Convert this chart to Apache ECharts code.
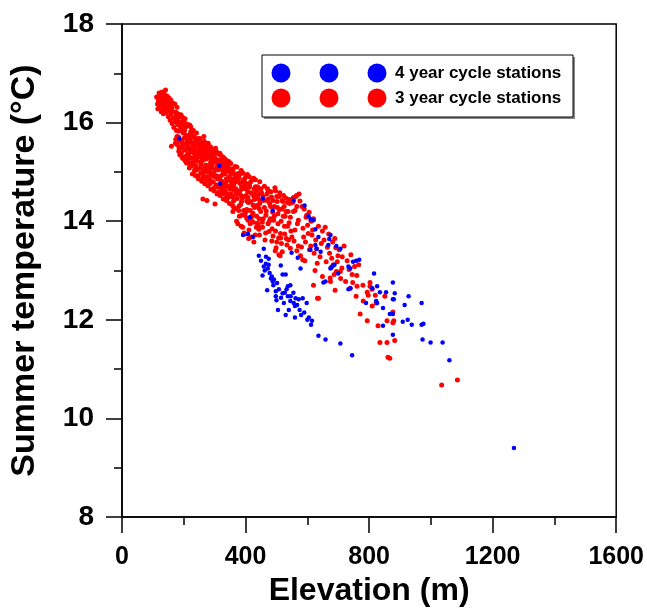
<!DOCTYPE html>
<html>
<head>
<meta charset="utf-8">
<script src="https://cdn.jsdelivr.net/npm/echarts@6/dist/echarts.min.js"></script>
<style>html,body{margin:0;padding:0;background:#fff}#c{width:647px;height:612px}</style>
</head>
<body>
<div id="c"></div>
<script>
// Axis settings
const xTicks = [0, 400, 800, 1200, 1600];
const yTicks = [8, 10, 12, 14, 16, 18];
const seriesNames = ['4 year cycle stations', '3 year cycle stations'];

// 3 year cycle stations (red): [elevation m, temperature °C]
const redTop = [[112,16.52],[115,16.38],[118,16.45],[120,16.6],[122,16.3],[124,16.48],[125,16.55],[127,16.22],[128,16.4],[130,16.62],[131,16.33],[133,16.5],[134,16.18],[136,16.44],[137,16.58],[139,16.27],[140,16.36],[141,16.66],[143,16.47],[144,16.2],[146,16.54],[147,16.31],[149,16.42],[150,16.12],[152,16.5],[153,16.25],[155,16.38],[156,16.05],[158,16.46],[159,16.18],[161,16.3],[162,15.98],[164,16.4],[165,16.1],[166,16.22],[168,15.9],[116,16.28],[121,16.44],[126,16.35],[135,16.26],[160,15.52]];
const redCore1 = [[172,16.02],[185,15.48],[178,16.31],[189,15.92],[174,15.66],[181,16.18],[176,15.84],[187,15.35],[171,16.38],[183,15.71],[179,15.55],[188,16.12],[175,16.21],[184,15.98],
[193,15.62],[204,16.08],[197,15.27],[208,15.74],[191,16.16],[201,15.44],[206,15.91],[195,15.83],[209,15.18],[199,16.02],[203,15.56],[192,15.38],[207,15.32],[196,16.11],[202,15.69],[210,15.97],
[213,15.52],[226,15.86],[218,15.08],[221,15.67],[212,15.93],[229,15.21],[216,15.74],[224,15.42],[211,15.25],[227,15.58],[219,15.95],[215,15.33],[228,14.96],[222,15.81],[214,15.61],[225,15.12],
[233,15.47],[246,15.68],[238,14.92],[241,15.79],[232,15.18],[249,15.31],[236,15.62],[244,15.05],[231,15.84],[247,14.86],[239,15.39],[235,15.02],[248,15.56],[242,15.26],[234,15.71],[245,15.44],
[253,15.36],[266,15.62],[258,14.81],[261,15.48],[252,15.68],[269,15.09],[256,15.15],[264,14.94],[251,15.52],[267,15.33],[259,15.6],[255,14.98],[268,14.76],[262,15.24],[254,15.44],[265,15.72],
[273,15.26],[286,15.51],[278,14.72],[281,15.38],[272,15.55],[289,14.97],[276,15.07],[284,14.84],[271,15.43],[287,15.2],[279,15.58],[275,14.9],[288,14.65],[282,15.13],[274,15.35],[285,15.47],
[293,15.16],[306,15.41],[298,14.62],[301,15.28],[292,15.47],[309,14.86],[296,14.98],[304,14.74],[291,15.34],[307,15.1],[299,15.45],[295,14.8],[308,14.55],[302,15.04],[294,15.24],[305,15.38],
[313,15.05],[326,15.31],[318,14.52],[321,15.18],[312,15.37],[329,14.76],[316,14.88],[324,14.63],[311,15.24],[327,15.0],[319,15.34],[315,14.7],[328,14.45],[322,14.93],[314,15.14],[325,15.27],
[333,14.96],[346,15.21],[338,14.42],[341,15.08],[332,15.27],[349,14.65],[336,14.78],[344,14.54],[331,15.13],[347,14.9],[339,15.23],[335,14.6],[348,14.36],[342,14.84],[334,15.05]];
const redCore2 = [[353,14.86],[366,15.11],[358,14.32],[361,14.98],[352,15.17],[369,14.55],[356,14.68],[364,14.44],[351,15.02],[367,14.8],[359,14.2],[355,14.5],[368,14.26],[362,14.74],
[373,14.92],[386,15.03],[378,14.22],[381,14.77],[372,15.1],[389,14.47],[376,14.58],[384,14.34],[371,14.0],[387,14.7],[379,14.88],[375,13.95],[388,14.12],[382,14.62],
[393,14.83],[406,14.95],[398,14.12],[401,14.66],[392,14.98],[409,14.38],[396,14.5],[404,14.24],[391,13.88],[407,14.6],[399,14.78],[395,13.76],[408,14.02],[402,14.52],
[413,14.72],[426,14.87],[418,14.05],[421,14.56],[412,14.9],[429,14.28],[416,14.4],[424,14.16],[411,13.82],[427,14.5],[419,13.68],[415,13.95],[428,14.66],
[433,14.62],[446,14.8],[438,13.96],[441,14.46],[432,14.84],[449,14.2],[436,14.32],[444,14.05],[431,13.72],[447,14.42],[439,14.7],[435,13.88],
[386,13.9],[410,13.65],[427,13.58],[445,13.72],[398,13.74]];
const redFill = [[177,16.05],[183,15.83],[186,16.0],[194,15.52],[198,15.79],[205,15.57],[200,15.94],[217,15.46],[223,15.71],[220,15.29],[231,15.56],[237,15.31],[243,15.6],[240,15.12],[251,15.4],[258,15.22],[263,15.57],[261,14.87],[271,15.29],[276,15.47],[284,15.01],[279,14.82],[291,15.23],[296,15.35],[304,14.91],[299,14.68],[312,15.16],[316,15.22],[324,14.81],[321,14.59],[331,15.03],[338,15.13],[343,14.71],[339,14.5],[352,14.96],[356,15.02],[364,14.63],[361,14.41],[372,14.84],[376,14.97],[384,14.53],[379,14.31],[392,14.79],[397,14.86],[404,14.41],[401,14.19],[412,14.69],[417,14.8],[424,14.33],[421,14.11],[432,14.56],[436,14.62],[444,14.26],[441,13.92],[448,14.56],[262,14.45],[275,14.42],[301,14.35]];
const redFill2 = [[173,15.58],[176,16.14],[180,15.96],[184,15.42],[187,15.62],[191,15.86],[195,15.3],[198,16.04],[202,15.84],[205,15.22],[208,15.47],[212,15.36],[215,15.66],[219,15.16],[222,15.92],[226,15.28],[229,15.72],[233,15.38],[236,15.05],[240,15.66],[243,15.44],[247,14.92],[250,15.6],[254,15.08],[257,15.48],[261,15.3],[264,14.84],[268,15.52],[271,15.14],[275,15.58],[278,15.0],[282,15.3],[285,14.76],[289,15.4],[292,15.08],[296,14.66],[299,15.26],[303,15.48],[306,14.92],[310,15.04],[313,14.6],[317,15.38],[320,14.8],[324,15.06],[327,14.56],[331,15.2],[334,14.7],[338,14.86],[341,14.46],[345,15.02],[348,15.16],[352,14.56],[355,14.76],[359,15.04],[362,14.28],[366,14.9],[369,14.66],[373,14.46],[376,14.82],[380,14.1],[383,14.96],[387,14.4],[390,14.66],[394,14.22],[397,14.7],[401,14.9],[404,14.06],[408,14.48],[411,14.76],[415,14.22],[418,14.58],[422,14.84],[425,13.98],[429,14.44],[432,14.7],[436,14.1],[439,14.5],[443,13.84],[446,14.36],[450,14.66],[454,13.98],[457,14.5],[461,14.28],[465,13.76],[469,14.42],[473,14.62],[477,14.0],[481,14.3],[485,13.6],[489,14.42],[493,14.1],[497,13.8],[501,14.5],[505,13.95],[509,14.24],[514,13.66],[518,14.42],[522,14.1],[527,13.74],[531,14.2],[536,13.9],[540,14.44],[545,14.08],[550,13.68],[555,14.2],[560,13.82],[566,14.3],[571,13.5]];
const redFill3 = [[178,15.72],[182,16.1],[190,15.5],[193,16.0],[197,15.58],[201,15.82],[206,15.45],[210,15.66],[214,15.2],[218,15.6],[221,15.4],[225,15.8],[228,15.5],[232,15.26],[235,15.52],[239,15.22],[244,15.36],[248,15.66],[252,15.2],[255,15.56],[259,15.4],[263,15.02],[266,15.42],[270,15.5],[273,15.02],[277,15.3],[281,14.9],[285,15.3],[288,15.08],[292,15.38],[295,14.92],[299,14.9],[303,15.2],[307,14.7],[311,15.1],[315,14.9],[319,15.1],[323,14.72],[327,15.18],[331,14.66],[335,15.0],[339,14.72],[343,15.1],[347,14.5],[351,14.82],[355,15.06],[359,14.5],[363,14.84],[367,14.62],[371,14.92]];
const redE = [[452,14.58],[467,14.21],[455,13.88],[471,14.66],[458,14.42],[476,13.79],[461,14.71],[480,14.05],[463,13.62],[484,14.49],[466,14.12],[489,13.7],[469,14.55],[493,14.3],[473,13.95],[497,14.62],[478,14.36],[501,13.58],[482,14.6],[505,14.15],[486,13.85],[509,14.5],[491,14.02],[513,13.75],[495,14.68],[517,14.25],[499,13.46],[521,14.4],[503,14.28],[526,13.9],[507,13.66],[530,14.47],[511,14.58],[534,13.52],[515,14.0],[538,14.2],[519,13.38],[543,14.36],[523,14.52],[547,13.8],[528,14.1],[549,14.44],[532,13.65],[536,14.38],[541,13.97],[545,13.45],[457,14.05],[474,14.45],[488,14.18],[502,14.4],[516,13.55],[525,14.3],[539,13.62],[512,13.3],[496,13.4],[508,13.32]];
const redF = [[553,14.38],[571,14.02],[557,13.6],[576,14.41],[560,14.22],[581,13.48],[563,14.5],[586,13.86],[566,13.4],[590,14.25],[568,13.95],[594,13.58],[573,14.55],[598,14.12],[578,13.3],[603,13.75],[583,14.3],[607,13.42],[588,13.68],[612,14.0],[592,13.2],[617,13.82],[596,14.08],[622,13.35],[601,13.92],[627,13.62],[606,14.18],[632,13.15],[611,13.5],[636,13.9],[615,13.72],[641,13.28],[620,14.05],[645,13.55],[625,13.0],[649,13.8],[630,13.44],[555,14.48],[565,14.52],[585,13.22]];
const redG = [[654,13.62],[672,13.35],[658,13.88],[677,13.06],[661,13.18],[682,13.58],[665,13.47],[687,12.92],[669,13.74],[692,13.46],[674,12.85],[697,13.18],[679,13.25],[703,13.42],[684,13.12],[708,12.84],[689,13.65],[713,13.28],[694,12.98],[719,13.5],[699,13.3],[724,12.78],[729,13.2],[735,13.02],[741,13.32],[747,12.76],[753,13.08],[760,12.9],[766,13.12],[712,13.05]];
const redH = [[835,11.54],[861,11.24],[1035,10.68],[1086,10.78],[794,11.98],[829,11.88],[880,11.98],[803,12.68],[739,12.64],[758,12.48],[636,12.44],[675,12.78],[707,12.98],[649,12.88],[851,12.48],[810,12.28],[771,12.12],[858,11.54],[867,11.22],[877,12.16],[858,11.98],[877,11.94],[883,11.58],[620,12.7],[690,12.6],[780,12.7],[820,12.5],[633,12.44],[803,12.76],[794,12.56],[810,12.62],[781,12.38],[823,12.34],[797,12.5],[761,12.68],[745,12.92]];

// 4 year cycle stations (blue): [elevation m, temperature °C]
const blueUpper = [[186,15.68],[315,15.12],[318,14.76],[456,14.46],[556,14.42],[591,14.32],[488,14.22],[414,14.08],[604,14.1],[620,14.02],[611,14.04],[626,13.84],[636,13.68],[675,13.72],[671,13.64],[392,13.72],[408,13.74],[424,13.68],[459,13.44],[626,13.52],[630,13.44],[610,13.42],[668,13.52],[694,13.5],[707,13.44],[643,13.38],[549,13.36]];
const blueLower = [[443,13.3],[466,13.28],[475,13.24],[466,13.14],[475,13.12],[459,13.08],[472,13.04],[514,13.1],[569,13.26],[578,13.04],[485,12.88],[492,12.82],[482,12.84],[488,12.78],[520,12.92],[530,12.92],[537,12.68],[533,12.62],[498,12.58],[508,12.62],[520,12.54],[498,12.48],[537,12.48],[546,12.48],[562,12.44],[572,12.42],[585,12.44],[524,12.34],[556,12.34],[598,12.34],[450,13.2],[462,13.0],[478,12.95],[490,12.7],[502,12.75],[515,12.45],[527,12.55],[545,12.38],[560,12.28],[575,12.2],[590,12.15],[605,12.05],[615,11.98],[500,12.4],[540,12.2],[567,12.3],[580,12.1],[600,12.0],[612,11.9],[636,11.68],[659,11.6],[707,11.52],[745,11.28],[470,12.6],[455,12.9],[505,12.2],[555,12.55],[545,12.7],[530,12.1],[560,12.05]];
const blueRight = [[681,13.08],[675,13.04],[688,13.12],[652,12.76],[659,12.78],[733,13.08],[739,13.04],[748,13.18],[758,13.2],[768,13.22],[733,12.62],[739,12.64],[700,12.94],[816,12.94],[826,12.68],[835,12.56],[810,12.64],[790,12.34],[823,12.38],[826,12.34],[877,12.76],[855,12.56],[880,12.42],[883,12.54],[928,12.48],[877,12.42],[915,12.3],[970,12.34],[845,12.24],[867,12.12],[877,12.12],[909,11.96],[925,12.0],[938,11.9],[970,11.9],[976,11.92],[845,11.88],[877,11.7],[973,11.6],[999,11.54],[1038,11.54],[1060,11.18],[1269,9.4]];

const redData = [].concat(redTop, redCore1, redCore2, redFill, redFill2, redFill3, redE, redF, redG, redH);
const blueData = [].concat(blueUpper, blueLower, blueRight);

const FONT = "'Liberation Sans', Arial, Helvetica, sans-serif";
const chart = echarts.init(document.getElementById('c'), null, {renderer: 'canvas'});

const legendItems = [];
const legendX = [281, 329, 377];
const legendRows = [{y: 73, color: '#0000ff', text: seriesNames[0]}, {y: 98, color: '#ff0000', text: seriesNames[1]}];
legendItems.push({type: 'rect', shape: {x: 264, y: 57, width: 311, height: 62}, style: {fill: '#888'}, z: 100});
legendItems.push({type: 'rect', shape: {x: 262, y: 55, width: 311, height: 62}, style: {fill: '#fff', stroke: '#000', lineWidth: 1}, z: 101});
legendRows.forEach(r => {
  legendX.forEach(cx => legendItems.push({type: 'circle', shape: {cx: cx, cy: r.y, r: 9.5}, style: {fill: r.color}, z: 102}));
  legendItems.push({type: 'text', x: 395, y: r.y, style: {text: r.text, fill: '#000', font: 'bold 17px ' + FONT, textVerticalAlign: 'middle', textAlign: 'left'}, z: 102});
});

chart.setOption({
  animation: false,
  backgroundColor: '#fff',
  grid: {left: 120, right: 29, top: 24, bottom: 88, show: true, borderColor: '#000', borderWidth: 1.5, backgroundColor: 'transparent'},
  xAxis: {
    type: 'value', min: xTicks[0], max: xTicks[xTicks.length - 1], interval: 400,
    name: 'Elevation (m)', nameLocation: 'middle', nameGap: 43,
    nameTextStyle: {fontFamily: FONT, fontWeight: 'bold', fontSize: 32, color: '#000'},
    axisLine: {show: true, lineStyle: {color: '#000', width: 1.5}},
    axisTick: {show: true, length: 16, lineStyle: {color: '#000', width: 1.5}},
    minorTick: {show: true, splitNumber: 2, length: 8, lineStyle: {color: '#000', width: 1.5}},
    splitLine: {show: false},
    axisLabel: {margin: 28, fontFamily: FONT, fontWeight: 'bold', fontSize: 25, color: '#000', formatter: v => String(v)}
  },
  yAxis: {
    type: 'value', min: yTicks[0], max: yTicks[yTicks.length - 1], interval: 2,
    name: 'Summer temperature (°C)', nameLocation: 'middle', nameGap: 80, nameRotate: 90,
    nameTextStyle: {fontFamily: FONT, fontWeight: 'bold', fontSize: 34, color: '#000'},
    axisLine: {show: true, lineStyle: {color: '#000', width: 1.5}},
    axisTick: {show: true, length: 16, lineStyle: {color: '#000', width: 1.5}},
    minorTick: {show: true, splitNumber: 2, length: 8, lineStyle: {color: '#000', width: 1.5}},
    splitLine: {show: false},
    axisLabel: {margin: 28, fontFamily: FONT, fontWeight: 'bold', fontSize: 28, color: '#000', formatter: v => String(v)}
  },
  series: [
    {name: seriesNames[1], type: 'scatter', data: redData, symbol: 'circle', symbolSize: 5, itemStyle: {color: '#ff0000', opacity: 1}, z: 2},
    {name: seriesNames[0], type: 'scatter', data: blueData, symbol: 'circle', symbolSize: 4.5, itemStyle: {color: '#0000ff', opacity: 1}, z: 3}
  ],
  graphic: legendItems
});
</script>
</body>
</html>
